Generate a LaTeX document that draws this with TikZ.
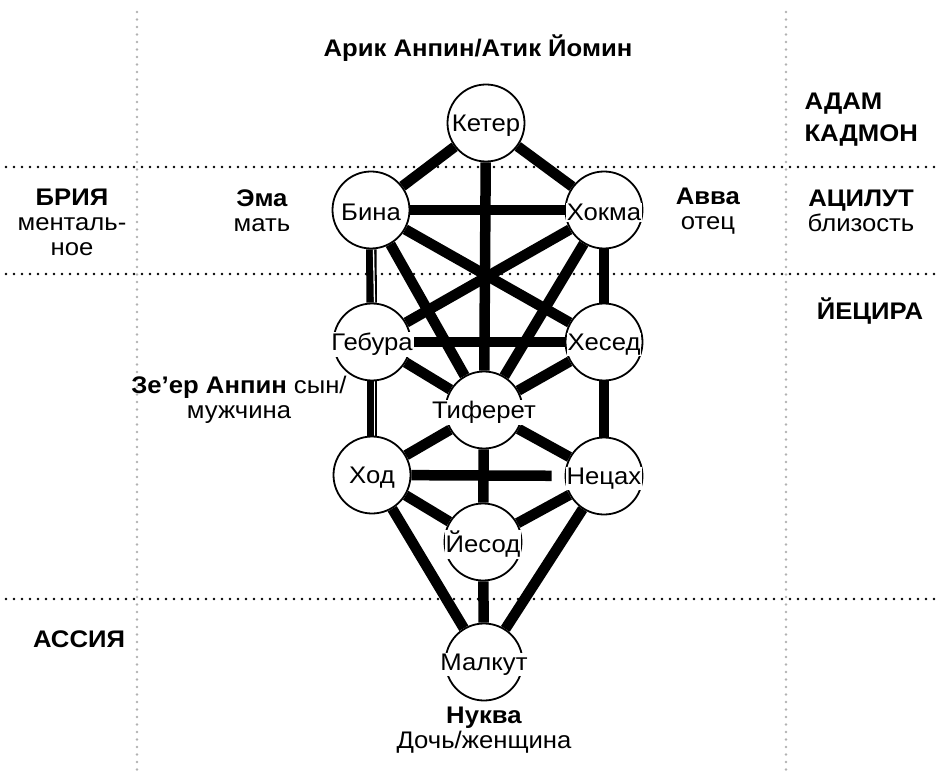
\documentclass[tikz,border=0pt]{standalone}
\usepackage{fontspec}
\setmainfont{Liberation Sans}[FakeStretch=1.07]
\usetikzlibrary{backgrounds}

\begin{document}
\begin{tikzpicture}[x=1pt,y=-1pt,
    sef/.style={circle,draw,line width=1.8pt,fill=white,minimum size=77pt,inner sep=0pt},
    nm/.style={fill=white,inner sep=1pt,yshift=-2.5pt,font=\fontsize{24}{26}\selectfont},
    link/.style={line width=10.5pt},
    realm/.style={black,line width=2.6pt,line cap=round,dash pattern=on 0pt off 8pt},
    col/.style={black!30,line width=2.8pt,line cap=round,dash pattern=on 0pt off 7.5pt},
    hd/.style={font=\fontsize{24}{26}\selectfont\bfseries},
    tx/.style={font=\fontsize{24}{25}\selectfont,align=center}]
    \useasboundingbox (0,0) rectangle (939,775);
    % sephirot
    \node[sef,label={[nm]center:Кетер}] (keter) at (486,123) {};
    \node[sef,label={[nm]center:Бина}] (bina) at (371,210) {};
    \node[sef,label={[nm]center:Хокма}] (hokhma) at (604,210) {};
    \node[sef,label={[nm]center:Гебура}] (gebura) at (372,342) {};
    \node[sef,label={[nm]center:Хесед}] (hesed) at (604,342) {};
    \node[sef,label={[nm]center:Тиферет}] (tiferet) at (484,410) {};
    \node[sef,label={[nm]center:Ход}] (hod) at (372,475) {};
    \node[sef,label={[nm]center:Нецах}] (nezah) at (604,476) {};
    \node[sef,label={[nm]center:Йесод}] (yesod) at (483,542) {};
    \node[sef,label={[nm]center:Малкут}] (malkut) at (484,662) {};
    % worlds and partzufim
    \node[hd] (arik) at (478,48) {Арик Анпин/Атик Йомин};
    \node[hd,align=left,anchor=west,font=\fontsize{24}{32}\selectfont\bfseries] (adam) at (801,120) {АДАМ\\КАДМОН};
    \node[tx] (bria) at (72,222) {\textbf{БРИЯ}\\менталь-\\ное};
    \node[tx] (ema) at (262,211) {\textbf{Эма}\\мать};
    \node[tx] (avva) at (708,211) {\textbf{Авва}\\отец};
    \node[tx] (aziluth) at (861,211) {\textbf{АЦИЛУТ}\\близость};
    \node[hd] (yezira) at (870,311) {ЙЕЦИРА};
    \node[tx] (zeer) at (239,400) {\textbf{Зе’ер Анпин} сын/\\мужчина};
    \node[hd] (assia) at (79,639) {АССИЯ};
    \node[tx] (nukva) at (484,730) {\textbf{Нуква}\\Дочь/женщина};
    \begin{pgfonlayer}{background}
        \draw[col] (137,12) -- (137,775);
        \draw[col] (786,12) -- (786,775);
        \draw[realm] (6,167) -- (939,167);
        \draw[realm] (6,274) -- (939,274);
        \draw[realm] (6,599) -- (939,599);
        % paths
        \draw[link] (keter) -- (bina);
        \draw[link] (keter) -- (hokhma);
        \draw[link] (keter) -- (tiferet);
        \draw[link] (bina) -- (hokhma);
        \draw[link] (bina) -- (gebura);
        \draw[white,line width=1.3pt] ([xshift=2.5pt]bina.south) -- ([xshift=2.5pt]gebura.north);
        \draw[link] (hokhma) -- (hesed);
        \draw[link] (bina) -- (tiferet);
        \draw[link] (hokhma) -- (tiferet);
        \draw[link] (bina) -- (hesed);
        \draw[link] (hokhma) -- (gebura);
        \draw[link] (gebura) -- (hesed);
        \draw[link] (gebura) -- (tiferet);
        \draw[link] (hesed) -- (tiferet);
        \draw[link] (gebura) -- (hod);
        \draw[white,line width=1.3pt] ([xshift=2.5pt]gebura.south) -- ([xshift=2.5pt]hod.north);
        \draw[link] (hesed) -- (nezah);
        \draw[link] (tiferet) -- (hod);
        \draw[link] (tiferet) -- (nezah);
        \draw[link] (tiferet) -- (yesod);
        \draw[link,shorten >=13pt] (hod) -- (nezah);
        \draw[link] (hod) -- (yesod);
        \draw[link] (nezah) -- (yesod);
        \draw[link] (hod) -- (malkut);
        \draw[link] (nezah) -- (malkut);
        \draw[link] (yesod) -- (malkut);
    \end{pgfonlayer}
\end{tikzpicture}
\end{document}
